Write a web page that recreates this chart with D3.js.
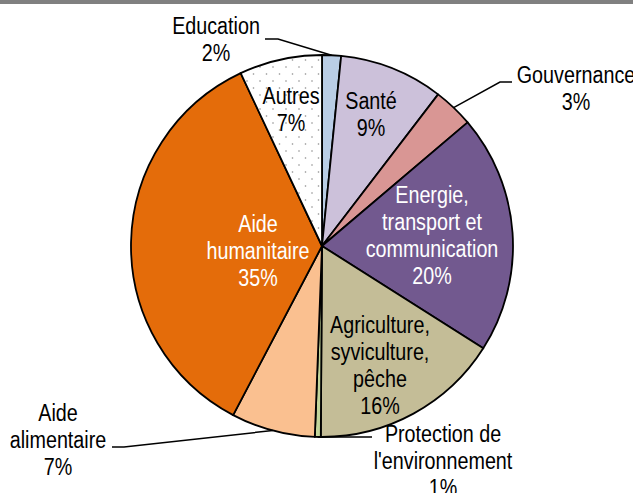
<!DOCTYPE html>
<html>
<head>
<meta charset="utf-8">
<script src="https://cdn.jsdelivr.net/npm/d3@7/dist/d3.min.js"></script>
<style>
  html, body { margin: 0; padding: 0; background: #fff; }
  svg { display: block; }
  text { font-family: "Liberation Sans", Arial, sans-serif; }
</style>
</head>
<body>
<script>
// ---- Data ----
const categories = ["Education", "Santé", "Gouvernance", "Energie, transport et communication",
  "Agriculture, syviculture, pêche", "Protection de l'environnement", "Aide alimentaire",
  "Aide humanitaire", "Autres"];
const values = [1.6, 8.8, 3.4, 20.2, 16.1, 0.5, 7.1, 35.3, 7.0];
const percentLabels = ["2%", "9%", "3%", "20%", "16%", "1%", "7%", "35%", "7%"];
const labelLines = [
  ["Education"], ["Santé"], ["Gouvernance"], ["Energie,", "transport et", "communication"],
  ["Agriculture,", "syviculture,", "pêche"], ["Protection de", "l'environnement"],
  ["Aide", "alimentaire"], ["Aide", "humanitaire"], ["Autres"]
];

// ---- Styles / layout ----
const colors = ["#b9cde5", "#ccc1da", "#d99694", "#72598f", "#c4bd97", "#c3d69b", "#fac090", "#e46c0a", "url(#dots)"];
const textColors = ["#000", "#000", "#000", "#fff", "#000", "#000", "#000", "#fff", "#000"];
const W = 633, H = 493;
const cx = 322, cy = 246, R = 191;
const fontSize = 23.5, lineH = 27, squeeze = 0.84;
const labelLayout = [
  {x: 216, y: 39, outside: true, elbow: [278, 39], end: [265, 39]},
  {x: 371, y: 114},
  {x: 576, y: 88, outside: true, elbow: [500, 82], end: [512, 82]},
  {x: 432, y: 235},
  {x: 380, y: 365},
  {x: 443, y: 461, outside: true, elbow: null, end: [372, 437]},
  {x: 58, y: 440, outside: true, elbow: [124, 447], end: [112, 447]},
  {x: 258, y: 251},
  {x: 291, y: 109}
];

const svg = d3.select("body").append("svg").attr("width", W).attr("height", H);

const defs = svg.append("defs");
const pat = defs.append("pattern").attr("id", "dots").attr("patternUnits", "userSpaceOnUse")
  .attr("width", 13).attr("height", 14);
pat.append("rect").attr("width", 13).attr("height", 14).attr("fill", "#fff");
pat.append("circle").attr("cx", 3).attr("cy", 3).attr("r", 0.8).attr("fill", "#8c8c8c");
pat.append("circle").attr("cx", 9.5).attr("cy", 10).attr("r", 0.8).attr("fill", "#8c8c8c");

svg.append("rect").attr("x", 0).attr("y", 0).attr("width", W).attr("height", 4).attr("fill", "#808080");

const data = categories.map((c, i) => ({cat: c, value: values[i], i}));
const pie = d3.pie().sort(null).value(d => d.value);
const arcs = pie(data);
const arc = d3.arc().innerRadius(0).outerRadius(R);

const g = svg.append("g").attr("transform", `translate(${cx},${cy})`);
g.selectAll("path.slice").data(arcs).join("path")
  .attr("class", "slice")
  .attr("d", arc)
  .attr("fill", d => colors[d.data.i])
  .attr("stroke", "#000")
  .attr("stroke-width", 1.8)
  .attr("stroke-linejoin", "round");

arcs.forEach(a => {
  const L = labelLayout[a.data.i];
  if (!L.outside) return;
  const mid = (a.startAngle + a.endAngle) / 2;
  const px = cx + R * Math.sin(mid), py = cy - R * Math.cos(mid);
  const pts = [[px, py]];
  if (L.elbow) pts.push(L.elbow);
  pts.push(L.end);
  svg.append("path").attr("d", d3.line()(pts)).attr("fill", "none")
    .attr("stroke", "#000").attr("stroke-width", 1.5);
});

arcs.forEach(a => {
  const i = a.data.i;
  const L = labelLayout[i];
  const lines = labelLines[i].concat([percentLabels[i]]);
  const n = lines.length;
  const t = svg.append("text")
    .attr("transform", `translate(${L.x},0) scale(${squeeze},1)`)
    .attr("text-anchor", "middle")
    .attr("font-size", fontSize)
    .attr("fill", textColors[i]);
  lines.forEach((s, k) => {
    t.append("tspan").attr("x", 0)
      .attr("y", L.y + (k - (n - 1) / 2) * lineH)
      .attr("dy", "0.35em")
      .text(s);
  });
});
</script>
</body>
</html>
